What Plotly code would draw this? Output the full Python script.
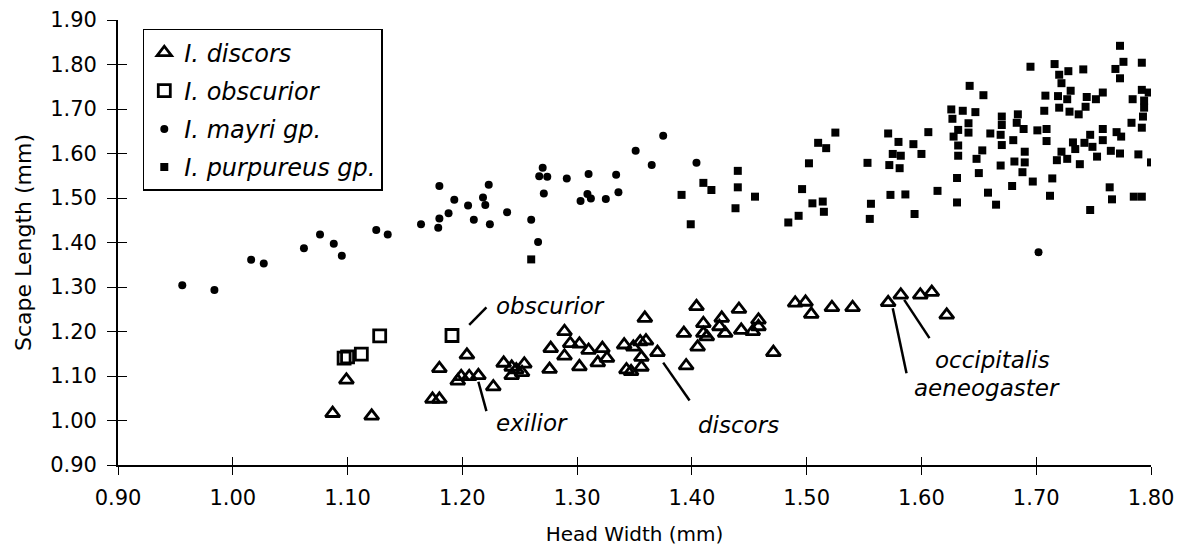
import plotly.graph_objects as go

# ---------------- data ----------------
discors_x = [1.099, 1.087, 1.121, 1.180, 1.204, 1.174, 1.180, 1.196, 1.199, 1.206,
             1.214, 1.227, 1.236, 1.243, 1.243, 1.247, 1.254, 1.252, 1.276, 1.277,
             1.289, 1.289, 1.294, 1.302, 1.302, 1.310, 1.318, 1.322, 1.326, 1.341,
             1.343, 1.349, 1.347, 1.355, 1.360, 1.359, 1.356, 1.356, 1.370, 1.393,
             1.395, 1.404, 1.410, 1.426, 1.424, 1.429, 1.410, 1.413, 1.405, 1.441,
             1.443, 1.453, 1.458, 1.458, 1.471, 1.490, 1.499, 1.504, 1.522, 1.540,
             1.571, 1.582, 1.599, 1.609, 1.622]
discors_y = [1.091, 1.016, 1.010, 1.117, 1.147, 1.048, 1.048, 1.089, 1.099, 1.099,
             1.101, 1.076, 1.129, 1.120, 1.101, 1.114, 1.127, 1.108, 1.115, 1.162,
             1.200, 1.145, 1.173, 1.172, 1.121, 1.158, 1.130, 1.162, 1.140, 1.170,
             1.114, 1.165, 1.110, 1.177, 1.179, 1.230, 1.142, 1.120, 1.153, 1.196,
             1.123, 1.256, 1.218, 1.230, 1.211, 1.196, 1.196, 1.188, 1.165, 1.250,
             1.203, 1.200, 1.226, 1.211, 1.153, 1.264, 1.266, 1.239, 1.254, 1.254,
             1.265, 1.282, 1.282, 1.288, 1.237]

obscurior_x = [1.128, 1.112, 1.100, 1.097, 1.191]
obscurior_y = [1.190, 1.149, 1.143, 1.140, 1.191]

mayri_x = [0.956, 0.984, 1.016, 1.027, 1.062, 1.076, 1.088, 1.095, 1.125, 1.135,
           1.164, 1.179, 1.180, 1.180, 1.188, 1.193, 1.205, 1.210, 1.218, 1.220,
           1.223, 1.224, 1.239, 1.260, 1.266, 1.270, 1.267, 1.274, 1.271, 1.291,
           1.310, 1.309, 1.303, 1.312, 1.325, 1.334, 1.336, 1.351, 1.365, 1.375,
           1.404, 1.702]
mayri_y = [1.304, 1.293, 1.361, 1.353, 1.387, 1.418, 1.397, 1.370, 1.428, 1.418,
           1.441, 1.433, 1.527, 1.454, 1.466, 1.496, 1.483, 1.451, 1.501, 1.484,
           1.530, 1.441, 1.468, 1.451, 1.401, 1.568, 1.549, 1.548, 1.510, 1.544,
           1.554, 1.509, 1.493, 1.499, 1.498, 1.552, 1.513, 1.606, 1.574, 1.640,
           1.579, 1.378]

purpureus_x = [1.260, 1.391, 1.399, 1.438, 1.410, 1.417, 1.440, 1.440, 1.455, 1.484,
               1.493, 1.505, 1.514, 1.515, 1.496, 1.502, 1.510, 1.517, 1.525, 1.553,
               1.556, 1.555, 1.571, 1.580, 1.593, 1.606, 1.600, 1.582, 1.575, 1.581,
               1.572, 1.573, 1.586, 1.594, 1.614, 1.631, 1.665, 1.642, 1.654, 1.626,
               1.636, 1.647, 1.627, 1.641, 1.632, 1.641, 1.628, 1.660, 1.669, 1.670,
               1.632, 1.653, 1.670, 1.632, 1.648, 1.650, 1.669, 1.631, 1.658, 1.773,
               1.776, 1.792, 1.769, 1.773, 1.695, 1.716, 1.728, 1.741, 1.720, 1.722,
               1.708, 1.719, 1.727, 1.730, 1.744, 1.752, 1.758, 1.707, 1.720, 1.743,
               1.737, 1.729, 1.784, 1.792, 1.798, 1.794, 1.794, 1.793, 1.792, 1.783,
               1.684, 1.670, 1.683, 1.689, 1.701, 1.709, 1.680, 1.709, 1.690, 1.681,
               1.690, 1.688, 1.697, 1.714, 1.679, 1.712, 1.722, 1.734, 1.732, 1.742,
               1.747, 1.749, 1.758, 1.758, 1.753, 1.770, 1.774, 1.765, 1.773, 1.789,
               1.800, 1.718, 1.727, 1.738, 1.764, 1.766, 1.785, 1.792, 1.747]
purpureus_y = [1.362, 1.507, 1.441, 1.477, 1.534, 1.518, 1.561, 1.524, 1.503, 1.445,
               1.460, 1.488, 1.492, 1.469, 1.520, 1.578, 1.624, 1.612, 1.647, 1.579,
               1.487, 1.453, 1.645, 1.626, 1.621, 1.648, 1.599, 1.595, 1.599, 1.567,
               1.574, 1.507, 1.508, 1.464, 1.516, 1.490, 1.485, 1.752, 1.731, 1.699,
               1.696, 1.693, 1.678, 1.668, 1.653, 1.647, 1.638, 1.645, 1.642, 1.683,
               1.618, 1.607, 1.619, 1.595, 1.588, 1.556, 1.573, 1.545, 1.512, 1.842,
               1.806, 1.804, 1.790, 1.769, 1.795, 1.801, 1.785, 1.789, 1.777, 1.758,
               1.730, 1.729, 1.722, 1.741, 1.727, 1.722, 1.737, 1.696, 1.703, 1.705,
               1.688, 1.694, 1.722, 1.743, 1.737, 1.719, 1.703, 1.683, 1.658, 1.669,
               1.688, 1.664, 1.669, 1.655, 1.652, 1.655, 1.630, 1.628, 1.604, 1.582,
               1.580, 1.558, 1.537, 1.544, 1.527, 1.505, 1.604, 1.610, 1.625, 1.624,
               1.642, 1.615, 1.655, 1.630, 1.593, 1.648, 1.638, 1.606, 1.600, 1.598,
               1.580, 1.585, 1.588, 1.576, 1.524, 1.497, 1.503, 1.503, 1.473]

x_ticks = [0.90, 1.00, 1.10, 1.20, 1.30, 1.40, 1.50, 1.60, 1.70, 1.80]
y_ticks = [0.90, 1.00, 1.10, 1.20, 1.30, 1.40, 1.50, 1.60, 1.70, 1.80, 1.90]

# labels: text, left x, middle y, leader line (x0, y0, x1, y1)
label_text = ["obscurior", "exilior", "discors", "occipitalis", "aeneogaster"]
label_x = [1.228, 1.228, 1.404, 1.610, 1.592]
label_y = [1.257, 0.995, 0.990, 1.136, 1.073]
leader_x0 = [1.206, 1.214, 1.375, 1.585, 1.575]
leader_y0 = [1.215, 1.087, 1.130, 1.271, 1.252]
leader_x1 = [1.221, 1.221, 1.398, 1.607, 1.587]
leader_y1 = [1.254, 1.021, 1.045, 1.185, 1.106]

FONT = "DejaVu Sans"

fig = go.Figure()
fig.add_trace(go.Scatter(
    x=discors_x, y=discors_y, mode="markers", name="<i>I. discors</i>",
    legendgroup="a",
    marker=dict(symbol="triangle-up-open", size=12.5, color="black",
                line=dict(width=2.8, color="black"))))
fig.add_trace(go.Scatter(
    x=obscurior_x, y=obscurior_y, mode="markers", name="<i>I. obscurior</i>",
    legendgroup="b",
    marker=dict(symbol="square-open", size=12, color="black",
                line=dict(width=2.8, color="black"))))
fig.add_trace(go.Scatter(
    x=mayri_x, y=mayri_y, mode="markers", name="<i>I. mayri gp.</i>",
    legendgroup="c",
    marker=dict(symbol="circle", size=8, color="black")))
fig.add_trace(go.Scatter(
    x=purpureus_x, y=purpureus_y, mode="markers", name="<i>I. purpureus gp.</i>",
    legendgroup="d",
    marker=dict(symbol="square", size=8, color="black")))
# helper trace for the inner tick axes
fig.add_trace(go.Scatter(x=[None], y=[None], xaxis="x2", yaxis="y2",
                         showlegend=False, hoverinfo="skip"))

for t, lx, ly in zip(label_text, label_x, label_y):
    fig.add_annotation(x=lx, y=ly, text="<i>" + t + "</i>", showarrow=False,
                       xanchor="left", yanchor="middle",
                       font=dict(family=FONT, size=23, color="black"))
for a, b, c, d in zip(leader_x0, leader_y0, leader_x1, leader_y1):
    fig.add_shape(type="line", x0=a, y0=b, x1=c, y1=d, xref="x", yref="y",
                  line=dict(color="black", width=2.5))

tick_font = dict(family=FONT, size=21, color="black")
common = dict(showgrid=False, zeroline=False, color="black", automargin=False)

fig.update_layout(
    width=1174, height=550,
    margin=dict(l=110, r=31, t=12, b=93, autoexpand=False),
    paper_bgcolor="white", plot_bgcolor="white",
    font=dict(family=FONT, color="black"),
    showlegend=True,
    legend=dict(x=0.024, y=0.98, xanchor="left", yanchor="top",
                bgcolor="white", bordercolor="black", borderwidth=1.5,
                font=dict(family=FONT, size=24, color="black"),
                tracegroupgap=4, itemsizing="trace"),
    xaxis=dict(range=[0.9, 1.8], tickvals=x_ticks,
               ticktext=["%.2f" % v for v in x_ticks],
               ticks="outside", ticklen=8, tickwidth=1.3, tickcolor="black",
               showline=True, linecolor="black", linewidth=1.8,
               tickfont=tick_font, ticklabelstandoff=5,
               title=dict(text="Head Width (mm)", font=dict(family=FONT, size=20),
                          standoff=18),
               **common),
    yaxis=dict(range=[0.9, 1.9], tickvals=y_ticks,
               ticktext=["%.2f" % v for v in y_ticks],
               ticks="outside", ticklen=9, tickwidth=1.3, tickcolor="black",
               showline=True, linecolor="black", linewidth=1.8,
               tickfont=tick_font, ticklabelstandoff=6,
               title=dict(text="Scape Length (mm)", font=dict(family=FONT, size=22),
                          standoff=12),
               **common),
    xaxis2=dict(range=[0.9, 1.8], tickvals=x_ticks, overlaying="x", anchor="y2",
                ticks="inside", ticklen=8, tickwidth=1.3, tickcolor="black",
                showticklabels=False, showline=False, **common),
    yaxis2=dict(range=[0.9, 1.9], tickvals=y_ticks, overlaying="y", anchor="x2",
                ticks="inside", ticklen=9, tickwidth=1.3, tickcolor="black",
                showticklabels=False, showline=False, **common),
)

fig.write_html("out.html")
